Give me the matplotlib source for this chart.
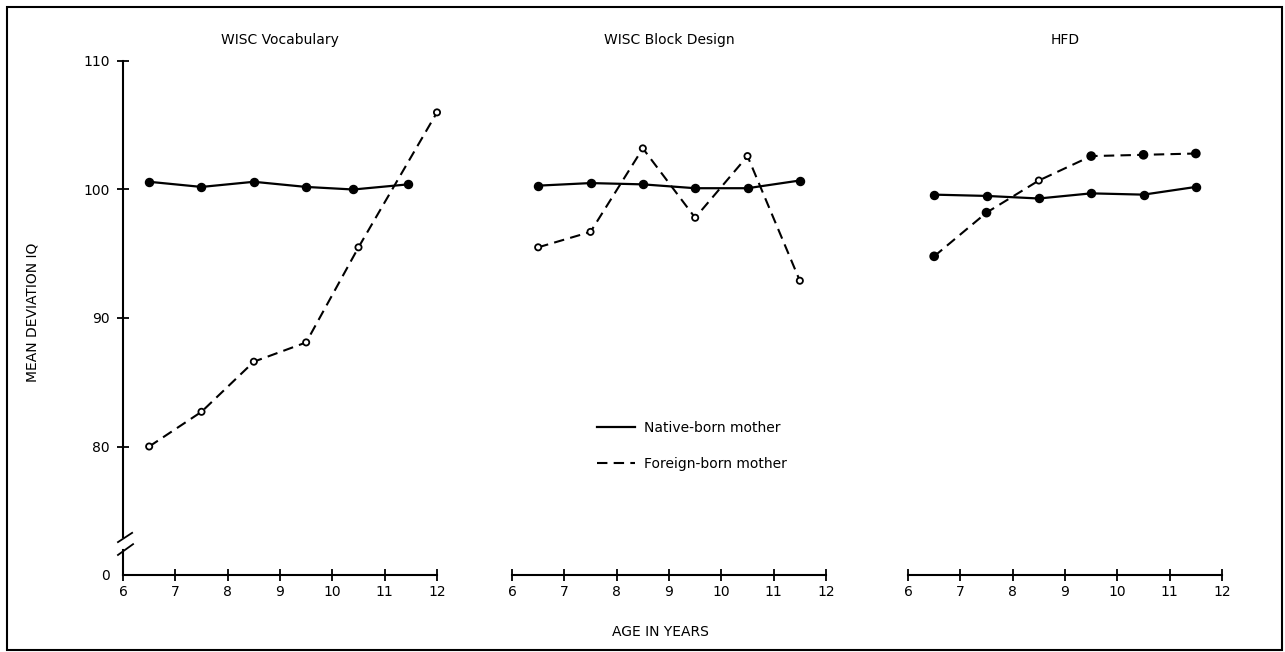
import matplotlib
matplotlib.use("Agg")
import matplotlib.pyplot as plt
from matplotlib.lines import Line2D
from matplotlib.patches import Rectangle

plt.rcParams['font.family'] = ['DejaVu Sans']

# 数据
panel_titles = ["WISC Vocabulary", "WISC Block Design", "HFD"]

vocab_native_age = [6.5, 7.5, 8.5, 9.5, 10.4, 11.45]
vocab_native = [100.6, 100.2, 100.6, 100.2, 100.0, 100.4]
vocab_foreign_age = [6.5, 7.5, 8.5, 9.5, 10.5, 12.0]
vocab_foreign = [80.0, 82.7, 86.6, 88.1, 95.5, 106.0]
vocab_foreign_filled = [False, False, False, False, False, False]

block_age = [6.5, 7.5, 8.5, 9.5, 10.5, 11.5]
block_native = [100.3, 100.5, 100.4, 100.1, 100.1, 100.7]
block_foreign = [95.5, 96.7, 103.2, 97.8, 102.6, 92.9]
block_foreign_filled = [False, False, False, False, False, False]

hfd_age = [6.5, 7.5, 8.5, 9.5, 10.5, 11.5]
hfd_native = [99.6, 99.5, 99.3, 99.7, 99.6, 100.2]
hfd_foreign = [94.8, 98.2, 100.7, 102.6, 102.7, 102.8]
hfd_foreign_filled = [True, True, False, True, True, True]

age_ticks = [6, 7, 8, 9, 10, 11, 12]
iq_ticks = [70, 80, 90, 100, 110]
iq_tick_labels = ["0", "80", "90", "100", "110"]

legend_labels = ["Native-born mother", "Foreign-born mother"]

W, H = 1285, 652
DASH = (0, (5, 3))

fig = plt.figure(figsize=(W / 100, H / 100), dpi=100)


def px_rect(x0, x1, ytop, ybot):
    return [x0 / W, 1 - ybot / H, (x1 - x0) / W, (ybot - ytop) / H]


panels = [
    (px_rect(123, 437, 61, 575), vocab_native_age, vocab_native,
     vocab_foreign_age, vocab_foreign, vocab_foreign_filled),
    (px_rect(512, 826, 61, 575), block_age, block_native,
     block_age, block_foreign, block_foreign_filled),
    (px_rect(908, 1222, 61, 575), hfd_age, hfd_native,
     hfd_age, hfd_foreign, hfd_foreign_filled),
]

axes = []
for i, (rect, n_age, n_val, f_age, f_val, f_filled) in enumerate(panels):
    ax = fig.add_axes(rect)
    ax.set_xlim(6, 12)
    ax.set_ylim(70, 110)
    for s in ["top", "right", "left"]:
        ax.spines[s].set_visible(False)
    ax.spines["bottom"].set_linewidth(1.5)
    ax.set_xticks(age_ticks)
    ax.tick_params(axis="x", direction="inout", length=9, width=1.3,
                   labelsize=10, pad=3)

    # 本国出生
    ax.plot(n_age, n_val, color="k", lw=1.6, marker="o", ms=5.8,
            mfc="k", mec="k", zorder=3, clip_on=False)
    # 外国出生
    ax.plot(f_age, f_val, color="k", lw=1.5, ls=DASH, zorder=2, clip_on=False)
    face = ["k" if f else "white" for f in f_filled]
    sizes = [32 if f else 20 for f in f_filled]
    ax.scatter(f_age, f_val, s=sizes, facecolors=face, edgecolors="k",
               linewidths=1.3, zorder=4, clip_on=False)

    ax.set_title(panel_titles[i], fontsize=10, pad=12)

    if i == 0:
        ax.set_yticks(iq_ticks)
        ax.set_yticklabels(iq_tick_labels)
        ax.tick_params(axis="y", direction="inout", length=9, width=1.3,
                       labelsize=10, pad=5)
        ax.yaxis.get_major_ticks()[0].tick1line.set_visible(False)
        # 断轴
        ax.plot([0, 0], [0.074, 1], transform=ax.transAxes, color="k",
                lw=1.5, clip_on=False)
        ax.plot([0, 0], [0, 0.049], transform=ax.transAxes, color="k",
                lw=1.5, clip_on=False)
        ax.plot([-0.016, 0.029], [0.064, 0.082], transform=ax.transAxes,
                color="k", lw=1.3, clip_on=False)
        ax.plot([-0.016, 0.032], [0.039, 0.060], transform=ax.transAxes,
                color="k", lw=1.3, clip_on=False)
    else:
        ax.tick_params(axis="y", left=False, labelleft=False)
    axes.append(ax)

handles = [Line2D([], [], color="k", lw=1.6),
           Line2D([], [], color="k", lw=1.5, ls=DASH)]
axes[1].legend(handles, legend_labels, loc="upper left",
               bbox_to_anchor=(597 / W, 1 - 421 / H),
               bbox_transform=fig.transFigure, frameon=False,
               handlelength=2.7, handletextpad=0.7, labelspacing=1.6,
               borderpad=0, borderaxespad=0, fontsize=10)

fig.text(33 / W, 1 - 312 / H, "MEAN DEVIATION IQ", rotation=90,
         ha="center", va="center", fontsize=10)
fig.text(660 / W, 1 - 632 / H, "AGE IN YEARS", ha="center", va="center",
         fontsize=10)

# 外框
fig.add_artist(Rectangle((7 / W, 1 - 650 / H), (1282 - 7) / W, (650 - 7) / H,
                         transform=fig.transFigure, fill=False, lw=1.5,
                         ec="k"))

plt.savefig("out.png", dpi=100)
plt.close()
